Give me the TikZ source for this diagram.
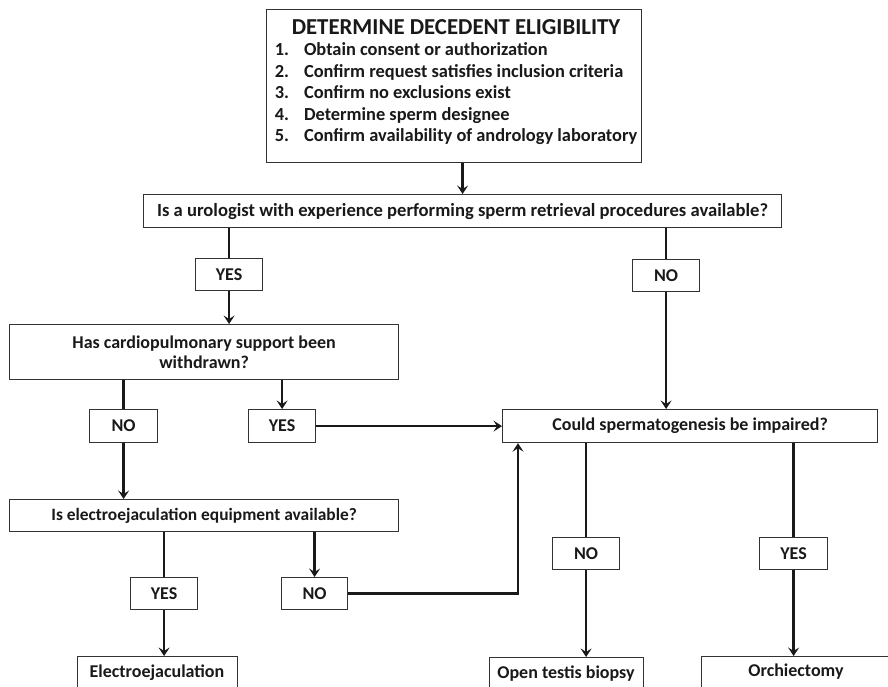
\documentclass[tikz,border=0pt]{standalone}
\usepackage{fontspec}
\setmainfont{Carlito}[BoldFont={Carlito Bold}]
\usetikzlibrary{arrows.meta}
\begin{document}
\begin{tikzpicture}[x=1pt,y=-1pt,
  box/.style={draw=black!80,line width=1.2pt,fill=white,inner sep=0pt,anchor=north west,font=\fontsize{18}{20}\selectfont\bfseries,text=black!90},
  lab/.style={box},
  btext/.style={font=\fontsize{18}{20}\selectfont\bfseries,text=black!90,inner sep=0pt},
  conn/.style={line width=2.3pt,black!90},
  arr/.style={conn,-{Stealth[length=8.5pt,width=11pt,inset=3.5pt]}}]
\useasboundingbox[fill=white] (0,0) rectangle (888,687);
% nodes
\node[box,minimum width=375pt,minimum height=153pt] (top) at (266,9) {};
\node[font=\bfseries,text=black!90,inner sep=0pt] (toptext) at (456,83.5) {%
\fontsize{18.4}{21.5}\selectfont
\begin{tabular}{@{}l@{\hspace{15pt}}l@{}}
\multicolumn{2}{c}{\fontsize{22.8}{21.5}\selectfont DETERMINE DECEDENT ELIGIBILITY}\\
1. & Obtain consent or authorization\\
2. & Confirm request satisfies inclusion criteria\\
3. & Confirm no exclusions exist\\
4. & Determine sperm designee\\
5. & Confirm availability of andrology laboratory
\end{tabular}};
\node[box,minimum width=638pt,minimum height=33pt,font=\fontsize{18.6}{20}\selectfont\bfseries] (uro) at (143,194) {Is a urologist with experience performing sperm retrieval procedures available?};
\node[lab,minimum width=67pt,minimum height=32pt] (yes1) at (195,258) {YES};
\node[lab,minimum width=67pt,minimum height=32pt] (no1) at (632,259) {NO};
\node[box,minimum width=389pt,minimum height=55pt,align=center] (cardio) at (9,324) {Has cardiopulmonary support been\\withdrawn?};
\node[lab,minimum width=68pt,minimum height=33pt] (no2) at (89,409) {NO};
\node[lab,minimum width=67pt,minimum height=33pt] (yes2) at (248,409) {YES};
\node[box,minimum width=375pt,minimum height=33pt] (could) at (502,409) {Could spermatogenesis be impaired?};
\node[box,minimum width=389pt,minimum height=32pt,font=\fontsize{17.4}{20}\selectfont\bfseries] (elec) at (9,499) {Is electroejaculation equipment available?\hspace{16pt}};
\node[lab,minimum width=67pt,minimum height=32pt] (yes3) at (130,577) {YES};
\node[lab,minimum width=66pt,minimum height=32pt] (no3) at (281,577) {NO};
\node[lab,minimum width=67pt,minimum height=32pt] (no4) at (552,537) {NO};
\node[lab,minimum width=68pt,minimum height=32pt] (yes4) at (759,537) {YES};
\node[box,minimum width=160pt,minimum height=60pt] (ee) at (77,656) {};
\node[btext] (eet) at (157,673) {Electroejaculation};
\node[box,minimum width=154pt,minimum height=60pt] (open) at (489,657) {};
\node[btext] (opent) at (566,674) {Open testis biopsy};
\node[box,minimum width=230pt,minimum height=60pt] (orch) at (701,656) {};
\node[btext] (orcht) at (796,672) {Orchiectomy};
\coordinate (bend) at (518,593);
% connectors
\draw[arr] (uro.north |- top.south) -- (uro.north);
\draw[conn] (uro.south -| yes1.north) -- (yes1.north);
\draw[arr] (yes1.south) -- (yes1.south |- cardio.north);
\draw[conn] (uro.south -| no1.north) -- (no1.north);
\draw[arr] (no1.south) -- (no1.south |- could.north);
\draw[conn] (cardio.south -| no2.north) -- (no2.north);
\draw[arr] (no2.south) -- (no2.south |- elec.north);
\draw[arr] (cardio.south -| yes2.north) -- (yes2.north);
\draw[arr] (yes2.east) -- (yes2.east -| could.west);
\draw[conn] (elec.south -| yes3.north) -- (yes3.north);
\draw[arr] (yes3.south) -- (yes3.south |- ee.north);
\draw[arr] (elec.south -| no3.north) -- (no3.north);
\draw[arr] (no3.east) -- (no3.east -| bend) -- (bend |- could.south);
\draw[conn] (could.south -| no4.north) -- (no4.north);
\draw[arr] (no4.south) -- (no4.south |- open.north);
\draw[conn] (could.south -| yes4.north) -- (yes4.north);
\draw[arr] (yes4.south) -- (yes4.south |- orch.north);
\end{tikzpicture}
\end{document}
